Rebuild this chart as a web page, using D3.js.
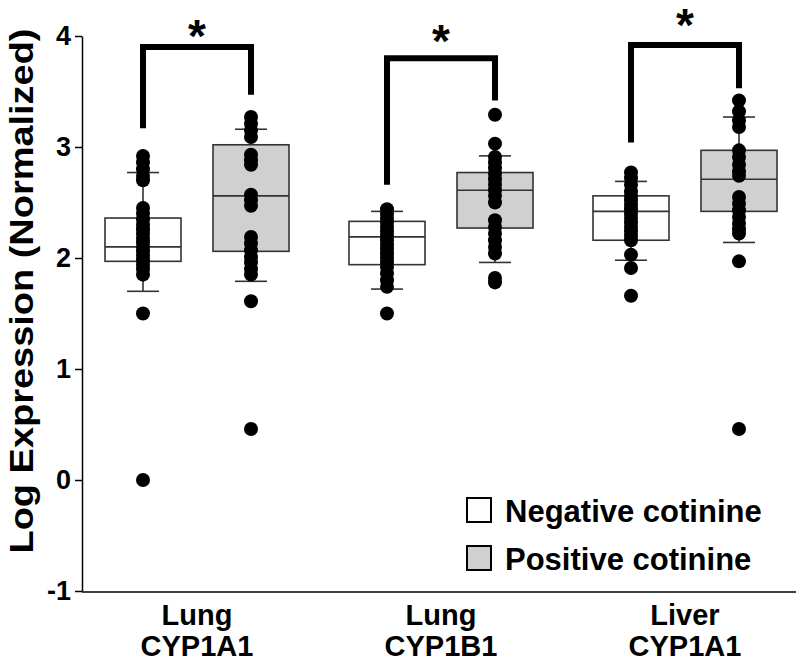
<!DOCTYPE html>
<html>
<head>
<meta charset="utf-8">
<script src="https://cdn.jsdelivr.net/npm/d3@7"></script>
<style>
  html, body { margin: 0; padding: 0; background: #fff; }
  svg { display: block; font-family: "Liberation Sans", Arial, sans-serif; }
</style>
</head>
<body>
<svg id="chart" width="800" height="664"></svg>
<script>
// ---- Data ----
const categories = ["Lung CYP1A1", "Lung CYP1B1", "Liver CYP1A1"];
const categoryLine1 = ["Lung", "Lung", "Liver"];
const categoryLine2 = ["CYP1A1", "CYP1B1", "CYP1A1"];
const seriesNames = ["Negative cotinine", "Positive cotinine"];
const yTicks = [-1, 0, 1, 2, 3, 4];

// individual points (log expression)
const negPoints = [
  [2.92, 2.86, 2.80, 2.74, 2.70, 2.45, 2.40, 2.35, 2.30, 2.26, 2.22, 2.18, 2.14, 2.10, 2.06, 2.02, 1.98, 1.94, 1.90, 1.85, 1.50, 0.0],
  [2.44, 2.40, 2.36, 2.32, 2.28, 2.24, 2.20, 2.16, 2.12, 2.08, 2.04, 2.00, 1.96, 1.92, 1.86, 1.80, 1.74, 1.50],
  [2.77, 2.72, 2.66, 2.60, 2.56, 2.52, 2.48, 2.44, 2.40, 2.36, 2.32, 2.28, 2.24, 2.20, 2.16, 2.03, 1.91, 1.66]
];
const posPoints = [
  [3.27, 3.21, 3.15, 3.09, 2.93, 2.88, 2.84, 2.57, 2.52, 2.47, 2.19, 2.13, 2.07, 2.01, 1.96, 1.90, 1.85, 1.61, 0.46],
  [3.29, 3.03, 2.91, 2.86, 2.81, 2.76, 2.71, 2.66, 2.61, 2.56, 2.50, 2.34, 2.28, 2.22, 2.16, 2.10, 2.04, 1.82, 1.78],
  [3.42, 3.32, 3.24, 3.18, 2.97, 2.91, 2.84, 2.78, 2.74, 2.55, 2.49, 2.43, 2.37, 2.31, 2.26, 2.22, 1.97, 0.46]
];

// box statistics
const negQ1 = [1.97, 1.94, 2.16];
const negMedian = [2.10, 2.19, 2.42];
const negQ3 = [2.36, 2.33, 2.56];
const negWhiskerLow = [1.70, 1.72, 1.98];
const negWhiskerHigh = [2.77, 2.42, 2.69];

const posQ1 = [2.06, 2.27, 2.42];
const posMedian = [2.56, 2.61, 2.71];
const posQ3 = [3.02, 2.77, 2.97];
const posWhiskerLow = [1.79, 1.96, 2.14];
const posWhiskerHigh = [3.16, 2.92, 3.27];

// significance brackets
const bracketTop = [3.90, 3.80, 3.92];
const bracketNegEnd = [3.17, 2.66, 3.04];
const bracketPosEnd = [3.47, 3.42, 3.53];
const sigLevel = [4.10, 4.05, 4.20];
const sigLabel = ["*", "*", "*"];

// ---- Layout ----
const svg = d3.select("#chart");
const plotLeft = 82, plotRight = 796, plotTop = 36, plotBottom = 591;
const fills = ["#ffffff", "#d0d0d0"];
const boxW = 76, capW = 32, groupOffset = 54, dotR = 7;
const FONT = "Liberation Sans, Arial, sans-serif";

const y = d3.scaleLinear().domain([-1, 4]).range([plotBottom, plotTop]);
const x = d3.scalePoint().domain(categories).range([197, 685]);
const xs = d3.scalePoint().domain(seriesNames).range([-groupOffset, groupOffset]);

// Y axis
const yAxis = d3.axisLeft(y).tickValues(yTicks).tickSize(7).tickSizeOuter(0).tickPadding(4)
  .tickFormat(d => String(d));
const gy = svg.append("g").attr("transform", `translate(${plotLeft},0)`).call(yAxis);
gy.select(".domain").attr("stroke", "#000").attr("stroke-width", 1.5);
gy.selectAll(".tick line").attr("stroke", "#000").attr("stroke-width", 1.5);
gy.selectAll(".tick text").attr("font-size", 27).attr("font-weight", "bold").attr("fill", "#000")
  .attr("font-family", FONT);

// X axis line
svg.append("line").attr("x1", plotLeft).attr("x2", plotRight)
  .attr("y1", plotBottom + 1).attr("y2", plotBottom + 1)
  .attr("stroke", "#000").attr("stroke-width", 1.5);

// category labels
categories.forEach((c, i) => {
  const t = svg.append("text").attr("text-anchor", "middle")
    .attr("font-size", 29).attr("font-weight", "bold").attr("fill", "#000");
  t.append("tspan").attr("x", x(c)).attr("y", 625).text(categoryLine1[i]);
  t.append("tspan").attr("x", x(c)).attr("y", 656).text(categoryLine2[i]);
});

// Y title
svg.append("text").attr("transform", `translate(33,291) rotate(-90)`)
  .attr("text-anchor", "middle").attr("font-size", 34).attr("font-weight", "bold").attr("fill", "#000")
  .attr("textLength", 525).attr("lengthAdjust", "spacingAndGlyphs")
  .text("Log Expression (Normalized)");

// boxes
const groups = [
  {name: seriesNames[0], pts: negPoints, q1: negQ1, med: negMedian, q3: negQ3, lo: negWhiskerLow, hi: negWhiskerHigh, fill: fills[0]},
  {name: seriesNames[1], pts: posPoints, q1: posQ1, med: posMedian, q3: posQ3, lo: posWhiskerLow, hi: posWhiskerHigh, fill: fills[1]}
];
const boxStroke = "#333", boxSW = 1.6;
groups.forEach(g => {
  categories.forEach((c, i) => {
    const cx = x(c) + xs(g.name);
    const gg = svg.append("g");
    gg.append("line").attr("x1", cx).attr("x2", cx).attr("y1", y(g.hi[i])).attr("y2", y(g.q3[i]))
      .attr("stroke", boxStroke).attr("stroke-width", boxSW);
    gg.append("line").attr("x1", cx).attr("x2", cx).attr("y1", y(g.q1[i])).attr("y2", y(g.lo[i]))
      .attr("stroke", boxStroke).attr("stroke-width", boxSW);
    gg.append("line").attr("x1", cx - capW / 2).attr("x2", cx + capW / 2).attr("y1", y(g.hi[i])).attr("y2", y(g.hi[i]))
      .attr("stroke", boxStroke).attr("stroke-width", boxSW);
    gg.append("line").attr("x1", cx - capW / 2).attr("x2", cx + capW / 2).attr("y1", y(g.lo[i])).attr("y2", y(g.lo[i]))
      .attr("stroke", boxStroke).attr("stroke-width", boxSW);
    gg.append("rect").attr("x", cx - boxW / 2).attr("width", boxW)
      .attr("y", y(g.q3[i])).attr("height", y(g.q1[i]) - y(g.q3[i]))
      .attr("fill", g.fill).attr("stroke", boxStroke).attr("stroke-width", boxSW);
    gg.append("line").attr("x1", cx - boxW / 2).attr("x2", cx + boxW / 2)
      .attr("y1", y(g.med[i])).attr("y2", y(g.med[i]))
      .attr("stroke", boxStroke).attr("stroke-width", boxSW);
  });
});

// points
groups.forEach(g => {
  categories.forEach((c, i) => {
    const cx = x(c) + xs(g.name);
    svg.append("g").selectAll("circle").data(g.pts[i]).join("circle")
      .attr("cx", cx).attr("cy", d => y(d)).attr("r", dotR).attr("fill", "#000");
  });
});

// significance brackets
categories.forEach((c, i) => {
  const xl = x(c) + xs(seriesNames[0]);
  const xr = x(c) + xs(seriesNames[1]);
  svg.append("path")
    .attr("d", `M${xl},${y(bracketNegEnd[i])}V${y(bracketTop[i])}H${xr}V${y(bracketPosEnd[i])}`)
    .attr("fill", "none").attr("stroke", "#000").attr("stroke-width", 6).attr("stroke-linejoin", "miter");
  svg.append("text").attr("x", (xl + xr) / 2).attr("y", y(sigLevel[i]) + 27)
    .attr("text-anchor", "middle").attr("font-size", 46).attr("font-weight", "bold").attr("fill", "#000")
    .text(sigLabel[i]);
});

// legend
const legend = svg.append("g").attr("transform", "translate(466,497)");
seriesNames.forEach((s, i) => {
  const row = legend.append("g").attr("transform", `translate(0,${i * 48})`);
  row.append("rect").attr("x", 1).attr("y", 1).attr("width", 24).attr("height", 24)
    .attr("fill", fills[i]).attr("stroke", "#000").attr("stroke-width", 2);
  row.append("text").attr("x", 39).attr("y", 25).attr("font-size", 31).attr("font-weight", "bold")
    .attr("fill", "#000").text(s);
});
</script>
</body>
</html>
